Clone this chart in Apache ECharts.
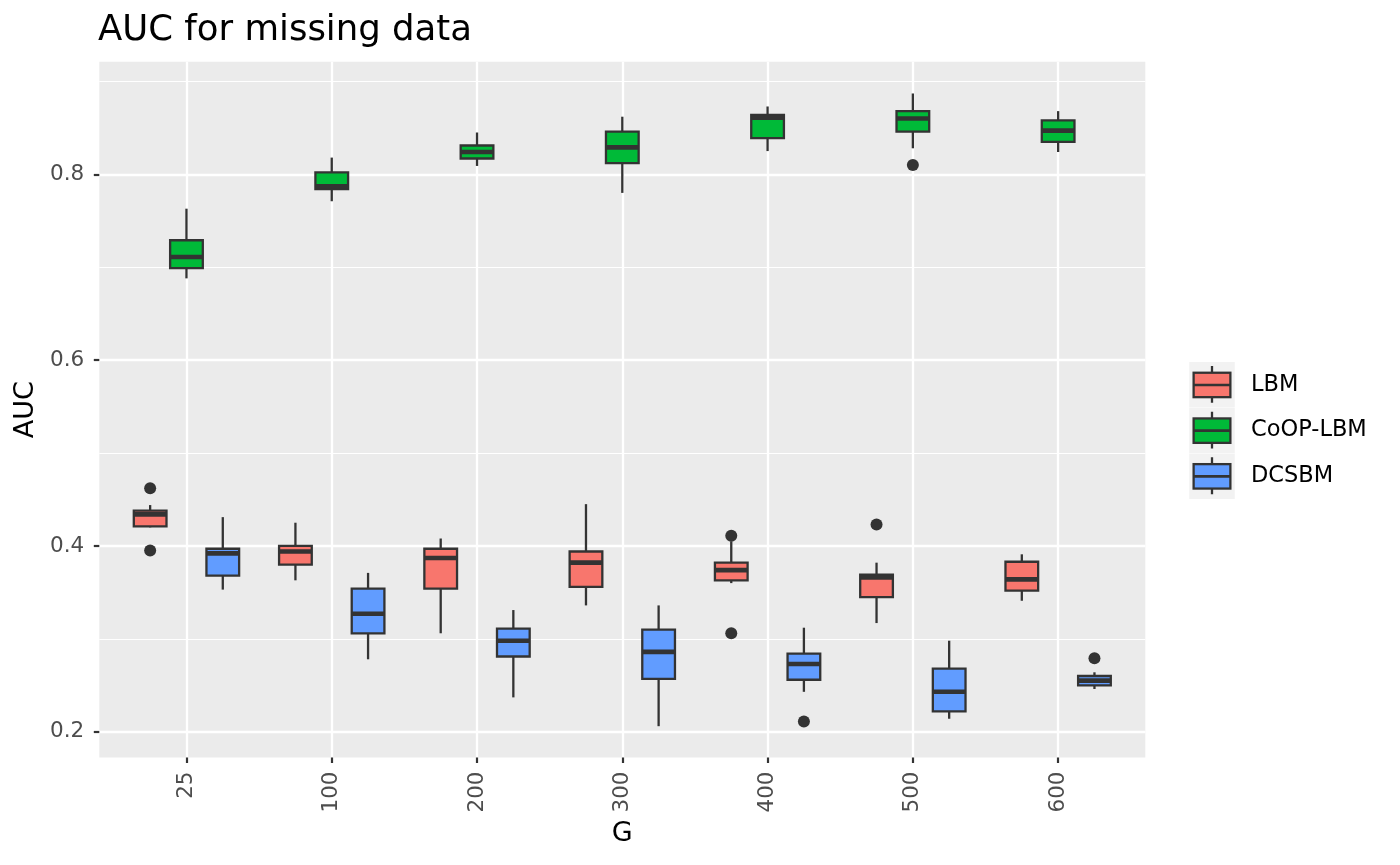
<!DOCTYPE html>
<html><head><meta charset="utf-8">
<script src="https://cdn.jsdelivr.net/npm/echarts@6/dist/echarts.min.js"></script>
<style>html,body{margin:0;padding:0;background:#fff}#c{width:1400px;height:865px}</style>
</head><body><div id="c"></div>
<script>
// ---- data ----
const categories = ['25', '100', '200', '300', '400', '500', '600'];
const seriesNames = ['LBM', 'CoOP-LBM', 'DCSBM'];
// [lower whisker, Q1, median, Q3, upper whisker]
const lbmStats = [
  [0.420, 0.421, 0.434, 0.438, 0.444],
  [0.363, 0.380, 0.394, 0.400, 0.425],
  [0.306, 0.354, 0.387, 0.397, 0.408],
  [0.336, 0.356, 0.382, 0.394, 0.445],
  [0.360, 0.363, 0.374, 0.382, 0.405],
  [0.317, 0.345, 0.366, 0.369, 0.382],
  [0.341, 0.352, 0.364, 0.383, 0.391]
];
const coopStats = [
  [0.688, 0.699, 0.711, 0.729, 0.763],
  [0.771, 0.784, 0.787, 0.802, 0.818],
  [0.809, 0.817, 0.824, 0.831, 0.845],
  [0.780, 0.812, 0.829, 0.846, 0.862],
  [0.825, 0.839, 0.861, 0.864, 0.873],
  [0.828, 0.846, 0.860, 0.868, 0.887],
  [0.824, 0.835, 0.847, 0.858, 0.868]
];
const dcsbmStats = [
  [0.353, 0.368, 0.392, 0.397, 0.431],
  [0.278, 0.306, 0.327, 0.354, 0.371],
  [0.237, 0.281, 0.298, 0.311, 0.331],
  [0.206, 0.257, 0.286, 0.310, 0.336],
  [0.243, 0.256, 0.273, 0.284, 0.312],
  [0.214, 0.222, 0.243, 0.268, 0.298],
  [0.246, 0.250, 0.255, 0.260, 0.264]
];
const lbmOutliers = [['25', 0.462], ['25', 0.395], ['400', 0.411], ['400', 0.306], ['500', 0.423]];
const coopOutliers = [['500', 0.810]];
const dcsbmOutliers = [['400', 0.211], ['600', 0.279]];
const yTicks = [0.2, 0.4, 0.6, 0.8];
const yMinor = [0.3, 0.5, 0.7, 0.9];

// ---- chart ----
const FONT = 'DejaVu Sans';
const colors = ['#F8766D', '#00BA38', '#619CFF'];
const offsets = [-0.25, 0, 0.25];
const statsList = [lbmStats, coopStats, dcsbmStats];
const outList = [lbmOutliers, coopOutliers, dcsbmOutliers];
const HW = 0.1125;

function makeRender(offset, color) {
  return function (params, api) {
    const xc = api.value(0) + offset;
    const p = (v) => api.coord([xc, v]);
    const L = api.coord([xc - HW, 0.5])[0];
    const R = api.coord([xc + HW, 0.5])[0];
    const C = p(0.5)[0];
    const yLow = p(api.value(1))[1], yQ1 = p(api.value(2))[1], yMed = p(api.value(3))[1],
          yQ3 = p(api.value(4))[1], yHigh = p(api.value(5))[1];
    const ls = { stroke: '#333333', lineWidth: 2.3 };
    return {
      type: 'group',
      children: [
        { type: 'line', shape: { x1: C, y1: yHigh, x2: C, y2: yQ3 }, style: ls },
        { type: 'line', shape: { x1: C, y1: yQ1, x2: C, y2: yLow }, style: ls },
        { type: 'rect', shape: { x: L, y: yQ3, width: R - L, height: yQ1 - yQ3 },
          style: { fill: color, stroke: '#333333', lineWidth: 2.3 } },
        { type: 'line', shape: { x1: L, y1: yMed, x2: R, y2: yMed },
          style: { stroke: '#333333', lineWidth: 4.6 } }
      ]
    };
  };
}

function legendIcon(color) {
  const svg = "<svg xmlns='http://www.w3.org/2000/svg' width='46' height='46' viewBox='0 0 46 46'>" +
    "<rect width='46' height='46' fill='#F2F2F2'/>" +
    "<line x1='23' y1='4' x2='23' y2='41' stroke='#333333' stroke-width='2.3'/>" +
    "<rect x='4.5' y='10.8' width='37' height='24.6' fill='" + color + "' stroke='#333333' stroke-width='2.3'/>" +
    "<line x1='4.5' y1='23.1' x2='41.5' y2='23.1' stroke='#333333' stroke-width='2.6'/>" +
    "</svg>";
  return 'image://data:image/svg+xml;charset=utf-8,' + encodeURIComponent(svg);
}

const gridLines = [];
yMinor.forEach(v => gridLines.push({ yAxis: v, lineStyle: { color: '#ffffff', width: 1.2, type: 'solid' } }));
yTicks.forEach(v => gridLines.push({ yAxis: v, lineStyle: { color: '#ffffff', width: 2.3, type: 'solid' } }));
categories.forEach((c, i) => gridLines.push({ xAxis: i + 1, lineStyle: { color: '#ffffff', width: 2.3, type: 'solid' } }));

const series = [{
  type: 'line', name: '_grid', data: [], silent: true, z: 0,
  markLine: { silent: true, z: 0, symbol: ['none', 'none'], label: { show: false }, animation: false,
    emphasis: { disabled: true }, data: gridLines }
}];
seriesNames.forEach((name, k) => {
  series.push({
    type: 'custom', name: name, z: 3,
    renderItem: makeRender(offsets[k], colors[k]),
    encode: { x: 0, y: [1, 2, 3, 4, 5] },
    itemStyle: { color: colors[k] },
    data: statsList[k].map((s, i) => [i + 1].concat(s))
  });
  series.push({
    type: 'scatter', name: name, z: 4, symbolSize: 12,
    itemStyle: { color: '#333333', opacity: 1 },
    data: outList[k].map(o => [categories.indexOf(o[0]) + 1 + offsets[k], o[1]])
  });
});

const chart = echarts.init(document.getElementById('c'));
chart.setOption({
  animation: false,
  backgroundColor: '#ffffff',
  textStyle: { fontFamily: FONT },
  title: { text: 'AUC for missing data', left: 98, top: 13, padding: 0,
    textStyle: { fontFamily: FONT, fontSize: 35.5, fontWeight: 'normal', color: '#000000' } },
  legend: {
    orient: 'vertical', left: 1189, top: 362, padding: 0, itemGap: 0,
    itemWidth: 46, itemHeight: 45.7, selectedMode: false,
    textStyle: { fontFamily: FONT, fontSize: 22.5, color: '#000000', padding: [0, 0, 0, 11] },
    data: seriesNames.map((n, k) => ({ name: n, icon: legendIcon(colors[k]) }))
  },
  grid: { left: 99.3, right: 254.7, top: 61.7, bottom: 107.5, show: true,
    backgroundColor: '#EBEBEB', borderWidth: 0, containLabel: false },
  xAxis: {
    type: 'value', min: 0.4, max: 7.6,
    name: 'G', nameLocation: 'middle', nameGap: 62,
    nameTextStyle: { fontFamily: FONT, fontSize: 27, color: '#000000' },
    axisLine: { show: false },
    axisTick: { show: true, length: 5.5, customValues: categories.map((c, i) => i + 1),
      lineStyle: { color: '#333333', width: 2.2 } },
    axisLabel: { rotate: 90, margin: 14, fontFamily: FONT, fontSize: 21.5, color: '#4D4D4D',
      customValues: categories.map((c, i) => i + 1),
      formatter: v => categories[Math.round(v) - 1] },
    splitLine: { show: false }
  },
  yAxis: {
    type: 'value', min: 0.1723, max: 0.9212,
    name: 'AUC', nameLocation: 'middle', nameGap: 57, nameRotate: 90,
    nameTextStyle: { fontFamily: FONT, fontSize: 27, color: '#000000' },
    axisLine: { show: false },
    axisTick: { show: true, length: 5.5, customValues: yTicks,
      lineStyle: { color: '#333333', width: 2.2 } },
    axisLabel: { margin: 15, fontFamily: FONT, fontSize: 21.5, color: '#4D4D4D',
      customValues: yTicks, formatter: v => v.toFixed(1) },
    splitLine: { show: false }
  },
  series: series
});
</script></body></html>
